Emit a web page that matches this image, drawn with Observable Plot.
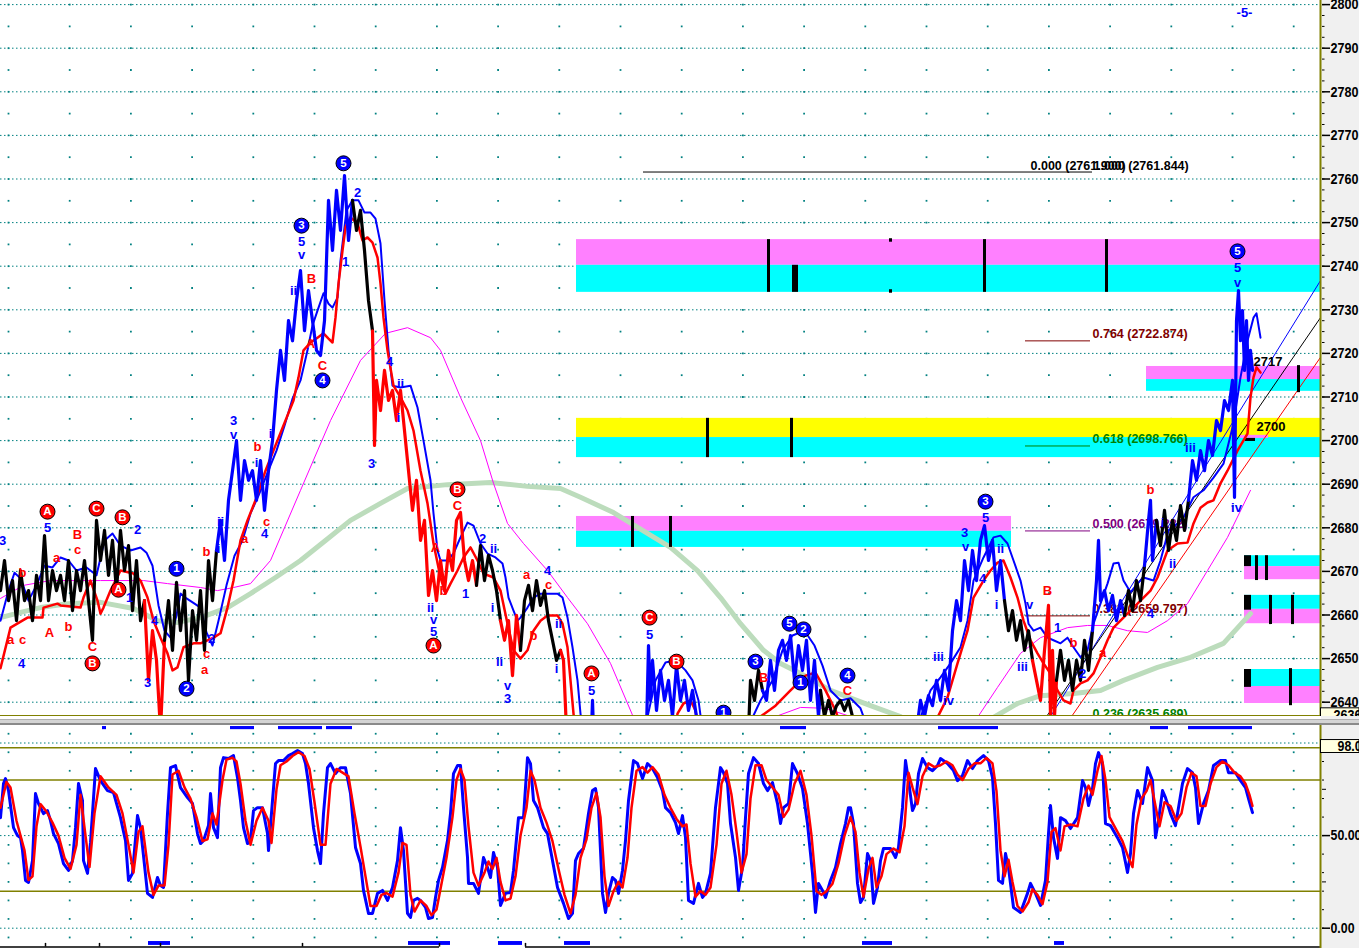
<!DOCTYPE html>
<html><head><meta charset="utf-8">
<script src="https://cdn.jsdelivr.net/npm/d3@7"></script>
<script src="https://cdn.jsdelivr.net/npm/@observablehq/plot@0.6"></script>
<style>
html,body{margin:0;padding:0;background:#fff;}
#wrap{position:relative;width:1359px;height:948px;overflow:hidden;background:#fff;}
#top{position:absolute;left:0;top:0;}
#bot{position:absolute;left:0;top:716px;}
#sep{position:absolute;left:0;top:719px;width:1359px;height:6px;background:#d4d4d4;border-top:1px solid #b0b0b0;border-bottom:2px solid #8a8a8a;box-sizing:border-box;}
</style></head><body>
<div id="wrap"><div id="top"></div><div id="bot"></div><div id="sep"></div></div>
<script>
// ---------- price path segments: [time index, price] ----------
const s01 = [[0,2665.6],[4,2672.5],[8,2663.3],[12,2667.9],[16,2658.7],[20,2670.2],[24,2663.3],[28,2665.6],[32,2658.7],[36,2669.1],[40,2663.3],[44,2678.2],[48,2663.3],[52,2670.2],[56,2665.6],[60,2669.1],[64,2663.3],[68,2672.5],[72,2661.0],[76,2670.2],[80,2665.6],[84,2672.5],[88,2663.3],[92,2654.2],[96,2681.7],[100,2672.5],[104,2679.4],[108,2669.1],[112,2677.1],[116,2665.6],[120,2679.4],[124,2670.2],[128,2675.9],[132,2661.0],[136,2672.5],[140,2658.7],[144,2663.3]];
const s02 = [[144,2663.3],[148,2645.0],[152,2656.4],[156,2649.6],[160,2633.5],[164,2654.2]];
const s03 = [[164,2654.2],[168,2663.3],[172,2651.9],[176,2667.5],[180,2656.4],[184,2665.6],[188,2645.0],[192,2661.0],[196,2654.2],[200,2665.6],[204,2651.9],[208,2672.5],[212,2663.3],[216,2674.8]];
const s04 = [[216,2674.8],[220,2681.7],[224,2672.5],[228,2686.3],[232,2693.1],[236,2700.0],[240,2686.3],[244,2695.4],[248,2690.9],[252,2693.1],[256,2686.3],[260,2695.4],[264,2684.0],[268,2693.1],[272,2700.0],[276,2711.5],[280,2720.7],[284,2713.8],[288,2727.5],[292,2722.9],[296,2732.1],[300,2739.0],[304,2725.2],[308,2734.4],[312,2727.5],[316,2720.7],[320,2719.5],[324,2727.5],[328,2755.1],[332,2743.6],[336,2757.4],[340,2748.2],[344,2760.8],[348,2745.9],[352,2755.1]];
const s05 = [[352,2755.1],[356,2748.2],[360,2752.8],[364,2743.6],[368,2732.1],[372,2725.2]];
const s06 = [[372,2725.2],[374,2698.9],[376,2713.8],[380,2706.9],[384,2716.1],[388,2709.2],[392,2711.5],[396,2704.6],[400,2711.5],[404,2702.3],[408,2693.1],[412,2684.0],[416,2690.9],[420,2677.1],[424,2681.7],[428,2664.5],[432,2670.2],[436,2663.3],[440,2672.5],[444,2665.6],[448,2674.8],[452,2670.2],[456,2681.7],[460,2683.5],[464,2672.5],[468,2667.9],[472,2672.5],[476,2666.8]];
const s07 = [[476,2666.8],[480,2675.9],[484,2667.9],[488,2673.7],[492,2670.2],[496,2665.6],[500,2658.7]];
const s08 = [[500,2658.7],[504,2654.2],[508,2658.7],[512,2646.1],[516,2659.9],[520,2651.9]];
const s09 = [[520,2651.9],[524,2663.3],[528,2666.8],[532,2661.0],[536,2667.9],[540,2662.2],[544,2665.6],[548,2658.7],[552,2654.2],[556,2649.6],[560,2651.9]];
const s10 = [[560,2651.9],[563,2649.6],[566,2633.5]];
const s11 = [[591,2633.5],[592,2640.4],[593,2633.5]];
const s12 = [[646,2633.5],[648,2653.0],[650,2640.4],[652,2649.6],[656,2638.1],[660,2647.3],[664,2640.4],[668,2645.0],[672,2636.7],[676,2648.4],[680,2640.4],[684,2645.0],[688,2638.1],[692,2642.7],[696,2636.7],[700,2633.5]];
const s13 = [[748,2633.5],[750,2645.0],[754,2640.4],[758,2647.3],[762,2642.7]];
const s14 = [[762,2642.7],[766,2640.4],[770,2649.6],[774,2642.7],[778,2651.9],[782,2654.2],[786,2649.6],[790,2655.3],[794,2645.0],[798,2653.0],[802,2647.3],[806,2654.2],[810,2640.4],[814,2649.6],[818,2636.7],[820,2642.7]];
const s15 = [[820,2642.7],[824,2636.7],[828,2640.4],[832,2636.7],[836,2639.2],[840,2640.4],[844,2638.1],[848,2640.4],[852,2636.7],[855,2633.5]];
const s16 = [[916,2633.5],[920,2640.4],[924,2636.7],[928,2641.5],[932,2639.2],[936,2645.0],[940,2640.4],[944,2647.3],[948,2642.7],[952,2656.4],[956,2663.3],[960,2658.7],[964,2672.5],[968,2665.6],[972,2674.8],[976,2667.9],[980,2677.1],[984,2680.5],[988,2672.5],[992,2677.1],[996,2665.6],[1000,2672.5],[1004,2663.3]];
const s17 = [[1004,2663.3],[1008,2656.4],[1012,2661.0],[1016,2654.2],[1020,2658.7],[1024,2651.9],[1028,2656.4],[1032,2649.6]];
const s18 = [[1032,2649.6],[1036,2645.0],[1040,2640.4],[1044,2651.9],[1048,2662.2],[1050,2636.7],[1052,2651.9],[1054,2636.7],[1056,2645.0]];
const s19 = [[1056,2645.0],[1060,2651.9],[1064,2645.0],[1068,2649.6],[1072,2642.7],[1076,2649.6],[1080,2645.0],[1084,2654.2],[1088,2647.3],[1092,2656.4]];
const s20 = [[1092,2656.4],[1096,2667.9],[1098,2677.1],[1100,2663.3],[1104,2665.6],[1108,2661.0],[1112,2664.5],[1116,2658.7],[1120,2663.3],[1124,2659.9]];
const s21 = [[1124,2659.9],[1128,2665.6],[1132,2661.0],[1136,2667.9],[1140,2663.3],[1144,2671.3]];
const s22 = [[1144,2671.3],[1148,2681.7],[1150,2686.3],[1152,2672.5],[1156,2681.7]];
const s23 = [[1156,2681.7],[1160,2675.9],[1164,2684.0],[1168,2674.8],[1172,2681.7],[1176,2677.1],[1180,2685.1],[1184,2679.4],[1188,2686.3]];
const s24 = [[1188,2686.3],[1192,2695.4],[1196,2690.9],[1200,2697.7],[1204,2693.1],[1208,2700.0],[1212,2696.6],[1216,2704.6],[1220,2702.3],[1224,2709.2],[1228,2706.9],[1232,2713.8],[1234,2687.0],[1236,2727.5],[1238,2734.4],[1240,2722.9],[1242,2729.8],[1244,2716.1],[1246,2727.5],[1248,2713.8],[1250,2720.7],[1252,2716.1]];
const segList = [s01,s02,s03,s04,s05,s06,s07,s08,s09,s10,s11,s12,s13,s14,s15,s16,s17,s18,s19,s20,s21,s22,s23,s24];
const segWave = ["flat","down","flat","up","flat","down","flat","down","flat","down","up","up","flat","up","flat","up","flat","down","flat","up","flat","up","flat","up"];

// ---------- moving averages ----------
const blueMA1 = [[0,2658.7],[8,2665.6],[14,2669.7],[20,2668.4],[28,2663.3],[36,2666.8],[44,2671.3],[52,2670.9],[60,2673.2],[68,2672.5],[76,2670.2],[86,2670.9],[96,2669.1],[104,2677.1],[112,2678.7],[120,2675.9],[130,2674.8],[140,2675.5],[146,2674.3],[152,2671.3],[158,2662.2],[164,2656.4],[170,2654.8],[176,2659.9],[180,2664.9],[186,2663.8],[194,2662.6],[200,2661.7],[206,2656.0],[212,2653.0],[218,2658.7],[226,2666.8],[234,2673.6],[242,2677.1],[250,2683.3],[258,2687.4],[264,2690.9],[270,2694.3],[276,2697.7],[284,2703.4],[292,2709.6],[300,2713.8],[307,2720.7],[312,2726.4],[317,2729.8],[323,2733.8],[328,2731.4],[332,2730.5],[337,2732.8],[340,2741.3],[346,2752.8],[352,2755.1],[358,2755.1],[364,2752.3],[370,2752.3],[375,2750.9],[380,2745.2],[384,2732.1],[388,2720.7],[392,2712.6],[400,2712.2],[410,2712.6],[417,2707.6],[423,2700.0],[430,2690.9],[433,2683.3],[437,2674.8],[440,2672.5],[447,2672.5],[453,2674.1],[460,2677.8],[467,2681.2],[473,2680.5],[480,2676.4],[487,2674.1],[495,2673.2],[502,2671.8],[505,2668.6],[508,2664.0],[513,2661.0],[517,2658.7],[520,2659.4],[527,2661.7],[533,2664.0],[540,2664.9],[547,2664.9],[557,2664.9],[562,2664.0],[567,2659.4],[572,2652.6],[577,2645.0],[580,2637.4],[582,2633.5]];
const blueMA2 = [[644,2633.5],[655,2645.0],[665,2649.1],[675,2649.6],[685,2647.3],[692,2645.0],[698,2640.4],[702,2633.5]];
const blueMA3 = [[746,2633.5],[760,2640.4],[772,2645.0],[782,2651.9],[792,2655.3],[804,2656.4],[814,2653.0],[822,2648.4],[830,2642.7],[840,2640.4],[850,2640.9],[860,2638.6],[868,2633.5]];
const blueMA4 = [[916,2633.5],[920,2636.5],[930,2642.7],[940,2645.7],[950,2648.9],[960,2652.6],[967,2658.7],[973,2667.9],[983,2673.2],[993,2677.8],[1000,2678.2],[1007,2676.4],[1013,2672.5],[1020,2667.9],[1025,2662.6],[1028,2658.0],[1033,2656.4],[1040,2657.1],[1047,2654.8],[1053,2654.2],[1060,2653.5],[1067,2654.8],[1073,2652.6],[1080,2650.3],[1087,2651.9],[1093,2658.0],[1100,2662.6],[1107,2667.2],[1113,2671.8],[1118,2672.0],[1123,2667.9],[1130,2665.2],[1137,2667.2],[1143,2668.6],[1153,2667.9],[1160,2672.5],[1168,2679.4],[1177,2681.0],[1183,2682.4],[1193,2687.0],[1203,2688.6],[1213,2691.5],[1223,2694.7],[1233,2703.9],[1240,2714.5],[1247,2722.9],[1253,2728.2],[1256,2729.2],[1260,2723.6]];
const redMA1 = [[0,2647.8],[10,2657.1],[27,2659.4],[42,2659.4],[43,2661.7],[57,2662.6],[60,2662.2],[80,2661.7],[83,2664.0],[90,2667.9],[97,2663.3],[100,2660.3],[103,2661.7],[110,2665.6],[120,2670.2],[133,2669.5],[140,2667.9],[147,2664.0],[153,2658.7],[160,2654.8],[167,2651.2],[172,2647.3],[177,2648.0],[183,2652.6],[193,2653.5],[200,2653.5],[207,2654.2],[213,2654.8],[220,2655.8],[227,2661.7],[233,2667.9],[240,2677.1],[247,2681.7],[255,2686.3],[265,2693.1],[275,2698.9],[285,2704.6],[293,2709.2],[298,2714.5],[303,2720.7],[310,2722.5],[317,2723.6],[323,2724.6],[328,2723.4],[332,2722.5],[335,2728.2],[338,2736.0],[342,2743.6],[345,2748.9],[350,2751.2],[357,2749.8],[362,2745.9],[367,2746.6],[372,2745.4],[377,2742.0],[380,2736.0],[383,2728.2],[387,2720.7],[393,2712.6],[400,2709.9],[407,2706.9],[413,2702.3],[420,2693.1],[427,2685.6],[433,2676.4],[440,2668.6],[445,2664.9],[450,2667.2],[457,2670.2],[463,2673.2],[470,2675.5],[477,2672.5],[483,2669.5],[493,2668.6],[500,2665.6],[507,2658.0],[513,2651.9],[520,2650.0],[527,2651.9],[533,2656.4],[540,2658.7],[547,2659.9],[557,2659.9],[562,2658.0],[567,2652.6],[570,2645.0],[573,2637.4],[575,2633.5]];
const redMA2 = [[675,2633.5],[677,2637.4],[683,2639.7],[690,2640.4],[695,2638.1],[698,2633.5]];
const redMA3 = [[755,2633.5],[760,2636.7],[775,2639.2],[790,2642.7],[805,2646.1],[815,2646.8],[825,2642.7],[835,2638.1],[842,2633.5]];
const redMA4 = [[932,2633.5],[937,2636.5],[947,2641.1],[957,2648.9],[967,2656.4],[973,2664.0],[983,2667.9],[990,2670.2],[997,2672.0],[1003,2672.5],[1010,2668.6],[1017,2664.0],[1023,2658.7],[1030,2654.2],[1037,2651.2],[1043,2648.9],[1050,2646.6],[1057,2642.7],[1063,2640.4],[1070,2639.7],[1073,2642.7],[1080,2644.3],[1087,2645.0],[1093,2646.6],[1100,2650.3],[1107,2654.2],[1113,2657.1],[1123,2659.4],[1130,2661.0],[1140,2663.3],[1150,2665.6],[1157,2668.6],[1167,2674.8],[1177,2676.4],[1187,2676.6],[1193,2681.0],[1200,2684.6],[1207,2685.8],[1213,2686.3],[1220,2690.2],[1227,2693.1],[1237,2697.7],[1247,2701.6],[1250,2709.9],[1253,2714.5],[1256,2716.8],[1260,2715.6]];
const slowMA1 = [[0,2663.8],[23,2666.8],[50,2667.9],[100,2667.9],[143,2667.9],[167,2667.2],[200,2666.3],[217,2665.6],[233,2666.3],[250,2667.2],[270,2672.5],[300,2688.6],[330,2704.6],[360,2718.4],[385,2724.6],[407,2725.9],[430,2723.6],[440,2720.7],[460,2709.9],[480,2700.0],[493,2690.2],[507,2681.0],[523,2676.4],[547,2670.2],[567,2664.0],[587,2658.0],[610,2648.9],[633,2636.5],[640,2633.5]];
const slowMA2 = [[758,2633.5],[775,2636.7],[800,2638.8],[825,2638.6],[850,2636.7],[860,2633.5]];
const slowMA3 = [[972,2633.5],[977,2636.5],[997,2643.4],[1020,2651.2],[1040,2654.8],[1067,2657.1],[1087,2657.6],[1107,2657.6],[1127,2656.4],[1147,2656.0],[1167,2658.7],[1187,2662.6],[1207,2670.2],[1227,2677.8],[1250,2688.6]];
const longMA1 = [[0,2659.4],[20,2660.6],[40,2661.7],[67,2662.6],[100,2662.9],[133,2661.5],[157,2658.7],[177,2658.3],[200,2659.4],[227,2661.7],[250,2664.9],[275,2668.6],[300,2672.5],[325,2677.1],[350,2681.7],[380,2685.6],[407,2689.0],[447,2689.9],[490,2690.4],[527,2689.5],[560,2689.0],[580,2687.0],[613,2683.5],[647,2678.7],[670,2675.5],[697,2670.2],[720,2664.0],[740,2658.0],[763,2651.9],[780,2648.9],[800,2646.6],[830,2642.7],[870,2639.2],[900,2636.7],[910,2633.5]];
const longMA2 = [[985,2633.5],[993,2636.5],[1017,2639.7],[1040,2641.5],[1073,2642.0],[1100,2642.7],[1123,2645.0],[1157,2648.0],[1190,2650.3],[1223,2653.5],[1250,2660.3]];

// ---------- zones, bars, channels, fibonacci ----------
const zones = [[576,1320,2740.2,2746.1,"sell"],[576,1320,2734.0,2740.2,"buy"],[576,1320,2700.7,2705.1,"key"],[576,1320,2696.1,2700.7,"buy"],[576,1011,2679.2,2682.6,"sell"],[576,1011,2675.5,2679.2,"buy"],[1146,1320,2714.0,2717.0,"sell"],[1146,1320,2711.3,2714.0,"buy"],[1244,1320,2671.1,2673.6,"buy"],[1244,1320,2668.1,2671.1,"sell"],[1244,1320,2661.3,2664.5,"buy"],[1244,1320,2658.0,2661.3,"sell"],[1244,1320,2643.6,2647.5,"buy"],[1244,1320,2639.7,2643.6,"sell"],[1240,1268,2700.5,2701.2,"sell"]];
const zoneBars = [[768,2734.0,2746.1],[793,2734.0,2740.2],[796,2734.0,2740.2],[984,2734.0,2746.1],[1106,2734.0,2746.1],[890,2745.5,2746.3],[890,2733.8,2734.6],[707,2696.1,2705.1],[791,2696.1,2705.1],[632,2675.5,2682.6],[670,2675.5,2682.6],[1298,2711.0,2717.2],[1256,2667.9,2673.6],[1266,2667.9,2673.6],[1270,2657.8,2664.5],[1292,2657.8,2664.5],[1290,2639.2,2647.7]];
const zoneBlocks = [[1244,1251,2671.1,2673.6],[1244,1251,2661.1,2664.5],[1244,1251,2643.4,2647.5],[1245,1255,2699.8,2700.5]];
const zoneTags = [[1253,2718.1,"2717"],[1256,2703.2,"2700"]];
const channelUpper = [[1050,2636.7],[1320,2736.7]];
const channelMid = [[1046,2636.7],[1320,2728.2]];
const channelLower = [[1071,2636.7],[1320,2719.1]];
const fibRatios = ["0.764","0.618","0.500","0.382","0.236"];
const fibPrices = [2722.874,2698.766,2679.282,2659.797,2635.689];
const fibTone = ["brown","green","purple","brown","green"];
const fibBase = [["0.000 (2761.900)",1030,643,2761.6],["1.000 (2761.844)",1093,1030,2761.6]];

// ---------- wave labels ----------
const circled = [[47,2683.7,"A","red"],[96,2684.4,"C","red"],[92,2648.9,"B","red"],[122,2682.4,"B","red"],[118,2665.8,"A","red"],[176,2670.6,"1","blue"],[186,2643.1,"2","blue"],[301,2749.3,"3","blue"],[322,2713.8,"4","blue"],[343,2763.6,"5","blue"],[457,2688.8,"B","red"],[433,2653.0,"A","red"],[591,2646.6,"A","red"],[649,2659.4,"C","red"],[676,2649.3,"B","red"],[723,2637.6,"1","blue"],[755,2649.3,"3","blue"],[789,2658.0,"5","blue"],[803,2656.7,"2","blue"],[800,2644.5,"1","blue"],[847,2646.1,"4","blue"],[985,2686.0,"3","blue"],[1237,2743.4,"5","blue"]];
const plainLabels = [[2,2677.1,"3","blue"],[47,2680.1,"5","blue"],[56,2673.2,"a","red"],[22,2669.7,"b","red"],[10,2654.2,"a","red"],[22,2654.4,"c","red"],[21,2648.7,"4","blue"],[49,2655.8,"A","red"],[77,2678.5,"B","red"],[77,2675.0,"c","red"],[68,2657.4,"b","red"],[92,2652.6,"C","red"],[137,2679.6,"2","blue"],[129,2664.0,"1","blue"],[147,2644.5,"3","blue"],[154,2658.7,"4","blue"],[206,2674.6,"b","red"],[218,2675.2,"i","blue"],[220,2681.4,"ii","blue"],[206,2651.2,"c","red"],[204,2647.5,"a","red"],[211,2654.6,"2","blue"],[244,2677.5,"a","red"],[266,2681.4,"c","red"],[264,2678.7,"4","blue"],[257,2698.6,"b","red"],[256,2695.0,"i","blue"],[233,2704.6,"3","blue"],[233,2701.4,"v","blue"],[270,2701.6,"i","blue"],[293,2734.4,"ii","blue"],[301,2745.7,"5","blue"],[301,2742.7,"v","blue"],[311,2737.2,"B","red"],[310,2722.3,"A","red"],[322,2717.2,"C","red"],[357,2756.9,"2","blue"],[345,2741.1,"1","blue"],[389,2718.1,"4","blue"],[400,2713.1,"ii","blue"],[398,2705.3,"i","blue"],[371,2694.7,"3","blue"],[457,2685.1,"C","red"],[435,2675.5,"A","red"],[443,2665.6,"b","red"],[465,2664.9,"1","blue"],[430,2661.7,"ii","blue"],[433,2658.9,"v","blue"],[433,2656.2,"5","blue"],[482,2677.5,"2","blue"],[493,2675.2,"ii","blue"],[492,2661.7,"i","blue"],[499,2649.3,"ii","blue"],[507,2643.8,"v","blue"],[507,2640.8,"3","blue"],[526,2669.1,"a","red"],[547,2670.2,"4","blue"],[548,2667.0,"c","red"],[533,2655.3,"b","red"],[558,2658.0,"ii","blue"],[556,2647.7,"i","blue"],[591,2642.7,"5","blue"],[649,2655.5,"5","blue"],[763,2645.7,"B","red"],[847,2642.7,"C","red"],[938,2650.5,"iii","blue"],[948,2640.4,"iv","blue"],[964,2678.9,"3","blue"],[965,2675.7,"v","blue"],[985,2682.4,"5","blue"],[982,2668.4,"4","blue"],[1000,2675.2,"ii","blue"],[996,2662.4,"i","blue"],[1029,2662.4,"v","blue"],[1022,2648.0,"iii","blue"],[1047,2665.6,"B","red"],[1057,2657.1,"1","blue"],[1073,2653.7,"b","red"],[1082,2646.4,"2","blue"],[1102,2651.4,"a","red"],[1150,2688.8,"b","red"],[1162,2681.2,"i","blue"],[1172,2671.8,"ii","blue"],[1150,2660.3,"4","blue"],[1190,2698.4,"iii","blue"],[1236,2684.6,"iv","blue"],[1237,2739.7,"5","blue"],[1237,2736.3,"v","blue"],[1244,2798.0,"-5-","blue"]];

// ---------- oscillator ----------
const kLine = [[0,59.7],[3,78.1],[5,80.8],[8,74.3],[13,54.3],[17,50.0],[20,48.9],[22,41.9],[25,25.8],[28,24.7],[32,36.5],[35,72.7],[38,67.3],[43,61.9],[47,63.5],[50,58.1],[53,51.1],[58,45.7],[63,34.9],[68,31.2],[72,36.5],[75,54.3],[78,78.1],[82,68.9],[83,36.5],[87,29.6],[90,46.2],[95,86.2],[100,79.7],[107,74.3],[113,73.2],[120,59.7],[125,47.3],[128,25.8],[132,29.6],[137,60.8],[140,54.3],[147,18.8],[152,16.6],[157,27.4],[160,23.1],[163,22.0],[167,61.9],[170,86.7],[175,87.8],[180,75.9],[187,70.5],[192,67.3],[197,51.1],[200,45.7],[203,47.3],[208,55.4],[210,72.7],[213,54.3],[217,48.9],[220,86.7],[223,92.1],[228,91.6],[233,93.2],[237,81.3],[240,68.9],[243,54.3],[247,45.7],[250,47.3],[253,63.5],[257,65.1],[262,65.1],[267,51.1],[268,41.9],[272,68.9],[275,88.9],[278,90.5],[283,90.5],[288,93.2],[292,94.3],[297,95.9],[302,94.3],[305,88.9],[308,78.1],[313,54.3],[317,41.9],[320,34.9],[323,61.9],[327,86.7],[330,88.9],[335,83.5],[340,86.7],[345,86.7],[350,72.7],[355,43.6],[360,34.9],[363,20.4],[368,8.0],[372,8.0],[377,18.8],[382,20.4],[387,15.0],[392,22.0],[397,36.5],[400,54.3],[403,41.9],[407,8.0],[410,5.8],[413,15.0],[417,16.1],[420,15.0],[425,11.2],[428,5.2],[432,5.8],[435,16.6],[438,25.8],[442,32.8],[447,47.3],[450,61.9],[453,83.5],[457,87.8],[460,87.8],[463,65.1],[467,38.2],[468,24.2],[473,24.2],[478,18.8],[483,38.2],[487,32.8],[490,27.4],[493,40.9],[497,32.8],[500,12.3],[505,18.8],[510,19.3],[513,31.2],[518,59.7],[523,59.7],[527,92.1],[530,88.9],[533,68.9],[537,65.1],[543,54.3],[547,51.1],[552,36.5],[557,22.0],[563,13.4],[568,5.2],[572,8.0],[575,36.5],[578,40.3],[583,43.1],[588,61.9],[592,74.3],[595,75.4],[598,65.1],[602,18.8],[605,8.5],[608,18.8],[612,27.4],[615,25.8],[618,18.8],[622,31.2],[625,47.3],[628,68.9],[633,90.5],[637,88.9],[642,80.8],[647,88.9],[652,86.2],[657,81.3],[662,74.3],[665,65.1],[670,62.4],[675,57.0],[678,51.1],[682,60.8],[685,48.9],[688,15.0],[693,13.4],[698,24.2],[702,16.6],[705,18.8],[710,29.6],[715,65.1],[720,86.7],[723,84.0],[727,78.1],[730,56.5],[735,38.2],[738,20.4],[742,32.8],[745,59.7],[748,83.5],[753,92.1],[758,88.9],[763,78.1],[767,74.3],[772,78.6],[777,67.3],[780,56.5],[783,65.1],[788,67.3],[792,88.9],[797,83.5],[802,75.4],[807,56.5],[812,29.6],[815,8.5],[818,24.2],[822,20.4],[825,16.6],[830,25.8],[835,32.8],[840,45.7],[845,56.5],[848,65.1],[850,65.1],[853,56.5],[857,24.2],[860,13.9],[863,16.6],[867,40.3],[870,36.5],[873,13.4],[877,22.0],[880,36.5],[883,43.1],[890,43.1],[895,38.2],[898,43.6],[902,65.1],[905,90.5],[908,79.7],[912,63.5],[915,67.3],[918,83.5],[922,91.6],[927,86.7],[932,85.1],[937,87.8],[940,91.6],[947,88.9],[953,85.1],[957,79.7],[962,82.4],[967,90.5],[972,86.2],[977,90.5],[983,93.2],[988,90.5],[992,81.3],[995,56.5],[998,25.8],[1002,24.2],[1005,40.3],[1008,32.8],[1013,11.2],[1020,8.5],[1027,18.8],[1030,24.2],[1035,18.8],[1040,12.3],[1045,25.8],[1048,51.1],[1050,66.2],[1053,48.9],[1057,37.7],[1060,59.7],[1065,58.1],[1070,53.8],[1077,59.7],[1082,79.7],[1085,75.9],[1088,66.2],[1092,75.4],[1095,88.9],[1098,94.8],[1102,88.9],[1105,56.5],[1110,55.4],[1117,48.9],[1122,43.6],[1127,30.1],[1130,40.3],[1133,61.9],[1137,74.3],[1142,67.3],[1147,86.7],[1152,79.7],[1155,48.9],[1158,58.1],[1162,74.3],[1165,70.5],[1170,61.9],[1175,55.4],[1178,65.1],[1182,78.1],[1187,86.2],[1192,84.0],[1195,75.9],[1198,56.5],[1203,67.3],[1208,74.3],[1213,87.8],[1220,90.5],[1225,90.5],[1228,84.0],[1235,84.0],[1240,79.7],[1245,75.9],[1248,70.0],[1252,62.4]];
const dLine = [[0,65],[6,79],[10,76],[16,58],[20,50],[24,42],[28,26],[32,28],[36,55],[40,67],[46,63],[52,57],[58,50],[64,38],[70,32],[76,45],[80,72],[85,50],[89,33],[94,62],[100,82],[108,76],[116,72],[122,62],[128,45],[133,30],[138,52],[142,55],[148,30],[153,18],[158,23],[164,23],[168,45],[172,83],[178,85],[184,76],[190,70],[196,60],[202,47],[207,48],[212,62],[216,56],[222,80],[226,91],[232,92],[236,90],[240,78],[245,58],[250,45],[256,58],[262,65],[268,58],[271,46],[276,75],[280,88],[286,90],[292,93],[298,95],[304,93],[309,86],[314,68],[320,45],[325,45],[330,78],[336,86],[342,84],[348,82],[354,62],[360,44],[365,28],[370,12],[376,12],[381,18],[386,19],[392,17],[398,30],[402,46],[406,45],[410,18],[414,9],[420,15],[426,12],[431,7],[436,10],[441,24],[446,38],[452,60],[456,80],[460,86],[464,80],[468,55],[473,30],[478,23],[484,30],[488,36],[492,32],[496,38],[500,25],[505,15],[510,16],[515,28],[520,50],[526,65],[530,85],[534,80],[540,65],[546,57],[552,47],[558,32],[564,18],[570,8],[575,18],[580,38],[586,48],[591,65],[596,73],[600,60],[604,28],[608,12],[613,20],[618,25],[622,22],[627,38],[631,65],[636,85],[642,87],[647,84],[652,87],[658,83],[664,72],[670,65],[676,59],[682,55],[686,56],[690,35],[695,17],[700,20],[705,18],[710,22],[716,45],[721,78],[726,85],[731,72],[736,52],[741,30],[746,40],[750,70],[755,88],[761,88],[766,80],[772,76],[778,72],[783,60],[788,64],[794,78],[800,85],[806,72],[811,50],[816,20],[821,18],[826,20],[832,24],[838,35],[844,50],[850,60],[855,52],[859,30],[863,17],[868,32],[872,38],[876,22],[881,28],[886,40],[893,43],[899,41],[904,55],[908,84],[912,76],[917,67],[922,82],[928,89],[934,87],[940,88],[946,90],[952,88],[957,83],[962,80],[968,86],[974,89],[980,89],[986,92],[992,89],[996,74],[1000,42],[1004,28],[1008,37],[1012,25],[1017,12],[1022,9],[1028,14],[1032,21],[1037,18],[1042,13],[1047,25],[1051,52],[1055,54],[1060,42],[1064,55],[1070,56],[1077,55],[1083,70],[1088,77],[1092,72],[1097,85],[1101,93],[1105,80],[1109,60],[1116,53],[1122,47],[1128,38],[1132,33],[1136,56],[1141,70],[1146,74],[1150,80],[1155,66],[1159,55],[1164,68],[1170,66],[1176,58],[1181,62],[1186,76],[1191,84],[1196,82],[1200,66],[1205,66],[1210,78],[1216,87],[1222,90],[1228,88],[1234,84],[1240,82],[1245,78],[1249,72],[1252,66]];
const trendFlagsTop = [[102,106],[230,254],[278,322],[326,352],[780,806],[938,998],[1150,1168],[1188,1252]];
const trendFlagsBottom = [[148,170],[408,450],[498,522],[564,590],[862,892],[1054,1064]];
const timeTicks = [45,99,160,302,439,525];
const priceTicks = d3.range(2640, 2801, 10);
const oscTicks = [[50,"50.00"],[0,"0.00"]];
const lastPrice = "2636";
const lastOsc = "98.04";

// ---------- build ----------
const waveColor = {up:"#0000ff", down:"#ff0000", flat:"#000000"};
const zoneColor = {sell:"#ff80ff", buy:"#00ffff", key:"#ffff00"};
const toneColor = {brown:"#800000", green:"#008000", purple:"#800080"};
const labColor = {red:"#ff0000", blue:"#0000ff"};
const FONT = "'Liberation Sans', Arial, sans-serif";
const AXFONT = "'Liberation Sans Narrow', 'Liberation Sans', Arial, sans-serif";
const PMIN = 2636.72, PMAX = 2800.94, XEND = 1320;

const priceRows = [];
segList.forEach((s, i) => s.forEach(([t, p]) => priceRows.push({seg: i, wave: segWave[i], t, p})));
const toRows = (arrs) => arrs.flatMap((a, i) => a.map(([t, v]) => ({g: i, t, v})));
const gridCols = d3.range(0, 22).map(k => 8 + 61.2 * k).filter(x => x < XEND);
const topDots = gridCols.flatMap(x => d3.range(2640, 2801, 5).map(y => ({x, y})));
const botDots = gridCols.flatMap(x => d3.range(-5, 106, 10).map(y => ({x, y})));
const fibRows = fibRatios.map((r, i) => ({label: `${r} (${fibPrices[i].toFixed(3)})`, p: fibPrices[i], c: toneColor[fibTone[i]]}));
const line = (data, stroke, w, extra={}) => Plot.line(data, {x: "t", y: "v", z: "g", stroke, strokeWidth: w, clip: true, ...extra});

const topPlot = Plot.plot({
  width: 1359, height: 716,
  marginTop: 0, marginBottom: 0, marginLeft: 0, marginRight: 39,
  x: {domain: [0, XEND], axis: null},
  y: {domain: [PMIN, PMAX], axis: null},
  color: {type: "identity"},
  style: {background: "transparent"},
  marks: [
    Plot.rect([0], {x1: 1321, x2: 1359, y1: 2600, y2: 2810, fill: "#f0f0f0"}),
    Plot.ruleY(priceTicks, {x1: 0, x2: XEND, stroke: "#008080", strokeDasharray: "1.5,2.5"}),
    Plot.dot(topDots, {x: "x", y: "y", r: 1, symbol: "square", fill: "#008080"}),
    Plot.rect(zones, {x1: d => d[0], x2: d => d[1], y1: d => d[2], y2: d => d[3], fill: d => zoneColor[d[4]]}),
    Plot.ruleY(fibRows, {y: "p", x1: 1025, x2: 1090, stroke: "c"}),
    Plot.text(fibRows, {x: 1092, y: "p", dy: -7, text: "label", fill: "c", textAnchor: "start", fontSize: 12.5, fontWeight: "bold", fontFamily: FONT}),
    Plot.ruleY(fibBase.slice(0,1), {y: d => d[3], x1: d => d[2], x2: 1092, stroke: "black"}),
    Plot.text(fibBase, {x: d => d[1], y: d => d[3], dy: -6, text: d => d[0], fill: "black", textAnchor: "start", fontSize: 12.5, fontWeight: "bold", fontFamily: FONT}),
    line(toRows([longMA1, longMA2]), "#bcdcbc", 5),
    line(toRows([slowMA1, slowMA2, slowMA3]), "#ff00ff", 1),
    line(toRows([channelUpper]), "#0000ff", 1),
    line(toRows([channelMid]), "#000000", 1),
    line(toRows([channelLower]), "#ff0000", 1),
    Plot.ruleX(zoneBars, {x: d => d[0], y1: d => d[1], y2: d => d[2], stroke: "black", strokeWidth: 3}),
    Plot.rect(zoneBlocks, {x1: d => d[0], x2: d => d[1], y1: d => d[2], y2: d => d[3], fill: "black"}),
    line(toRows([blueMA1, blueMA2, blueMA3, blueMA4]), "#0000ff", 2),
    line(toRows([redMA1, redMA2, redMA3, redMA4]), "#ff0000", 2.5),
    Plot.line(priceRows, {x: "t", y: "p", z: "seg", stroke: d => waveColor[d.wave], strokeWidth: 3.2, clip: true}),
    Plot.text(zoneTags, {x: d => d[0], y: d => d[1], text: d => d[2], textAnchor: "start", fill: "black", fontSize: 13, fontWeight: "bold", fontFamily: FONT}),
    Plot.text(plainLabels, {x: d => d[0], y: d => d[1], text: d => d[2], fill: d => labColor[d[3]], fontSize: 13, fontWeight: "bold", fontFamily: FONT}),
    Plot.dot(circled, {x: d => d[0], y: d => d[1], r: 7.5, fill: d => labColor[d[3]], stroke: "black", strokeWidth: 1}),
    Plot.text(circled, {x: d => d[0], y: d => d[1], text: d => d[2], fill: "white", fontSize: 11.5, fontWeight: "bold", fontFamily: FONT}),
    Plot.ruleX([XEND], {y1: PMIN - 1, y2: PMAX + 1, stroke: "#808000", strokeWidth: 2}),
    Plot.ruleY([2636.9], {x1: 0, x2: XEND, stroke: "#808000", strokeWidth: 1.5}),
    Plot.ruleY(d3.range(2637.5, 2801, 2.5), {x1: 1322, x2: 1324.5, stroke: "black"}),
    Plot.ruleY(priceTicks, {x1: 1322, x2: 1330, stroke: "black", strokeWidth: 1.5}),
    Plot.text(priceTicks, {x: 1330, y: d => d, text: d => String(d), textAnchor: "start", fill: "black", fontSize: 15, fontWeight: "bold", fontFamily: AXFONT}),
    Plot.rect([0], {x1: 1320.5, x2: 1359, y1: 2634.5, y2: 2638.6, fill: "#ffffe0", stroke: "black"}),
    Plot.text([lastPrice], {x: 1333, y: 2637.0, text: d => d, textAnchor: "start", fill: "black", fontSize: 15, fontWeight: "bold", fontFamily: AXFONT})
  ]
});
document.getElementById("top").appendChild(topPlot);

const botPlot = Plot.plot({
  width: 1359, height: 232,
  marginTop: 26.5, marginBottom: 20.3, marginLeft: 0, marginRight: 39,
  x: {domain: [0, XEND], axis: null},
  y: {domain: [0, 100], axis: null},
  color: {type: "identity"},
  style: {background: "transparent"},
  marks: [
    Plot.rect([0], {x1: 1321, x2: 1359, y1: -20, y2: 130, fill: "#f0f0f0"}),
    Plot.ruleY([0, 50, 100], {x1: 0, x2: XEND, stroke: "#008080", strokeDasharray: "1.5,2.5"}),
    Plot.ruleY([20, 80, 97.4], {x1: 0, x2: XEND, stroke: "#808000", strokeWidth: 1.5}),
    Plot.dot(botDots, {x: "x", y: "y", r: 1, symbol: "square", fill: "#008080"}),
    Plot.rect(trendFlagsTop, {x1: d => d[0], x2: d => d[1], y1: 107.2, y2: 108.9, fill: "#0000ff"}),
    Plot.rect(trendFlagsBottom, {x1: d => d[0], x2: d => d[1], y1: -9.3, y2: -7.2, fill: "#0000ff"}),
    Plot.ruleY([-10.2], {x1: 0, x2: 439, stroke: "black", strokeWidth: 1.5}),
    Plot.ruleY([-10.2], {x1: 525, x2: XEND, stroke: "black", strokeWidth: 1.5}),
    Plot.ruleX(timeTicks, {y1: -10.2, y2: -8.2, stroke: "black", strokeWidth: 1.5}),
    Plot.line(kLine, {x: d => d[0], y: d => d[1], stroke: "#0000ff", strokeWidth: 3}),
    Plot.line(dLine, {x: d => d[0], y: d => d[1], stroke: "#ff0000", strokeWidth: 2.5}),
    Plot.ruleX([XEND], {y1: -12, y2: 112, stroke: "#808000", strokeWidth: 2}),
    Plot.ruleY(d3.range(0, 101, 10), {x1: 1322, x2: 1324, stroke: "black"}),
    Plot.ruleY([25, 75], {x1: 1322, x2: 1326, stroke: "black"}),
    Plot.ruleY(oscTicks, {y: d => d[0], x1: 1322, x2: 1330, stroke: "black", strokeWidth: 1.5}),
    Plot.text(oscTicks, {x: 1330, y: d => d[0], text: d => d[1], textAnchor: "start", fill: "black", fontSize: 15, fontWeight: "bold", fontFamily: AXFONT}),
    Plot.rect([0], {x1: 1320.5, x2: 1359, y1: 94.6, y2: 101.6, fill: "#ffffe0", stroke: "black"}),
    Plot.text([lastOsc], {x: 1337, y: 98.1, text: d => d, textAnchor: "start", fill: "black", fontSize: 15, fontWeight: "bold", fontFamily: AXFONT})
  ]
});
document.getElementById("bot").appendChild(botPlot);

// condense the axis digits like the narrow terminal font
[topPlot, botPlot].forEach(svg => {
  svg.querySelectorAll("text").forEach(t => {
    const holder = t.closest("[font-family]");
    if (!holder || !holder.getAttribute("font-family").includes("Narrow")) return;
    const s = t.textContent;
    const w = [...s].reduce((a, c) => a + (c === "." ? 3 : 7), 0);
    t.setAttribute("textLength", w);
    t.setAttribute("lengthAdjust", "spacingAndGlyphs");
  });
});
</script>
</body></html>
